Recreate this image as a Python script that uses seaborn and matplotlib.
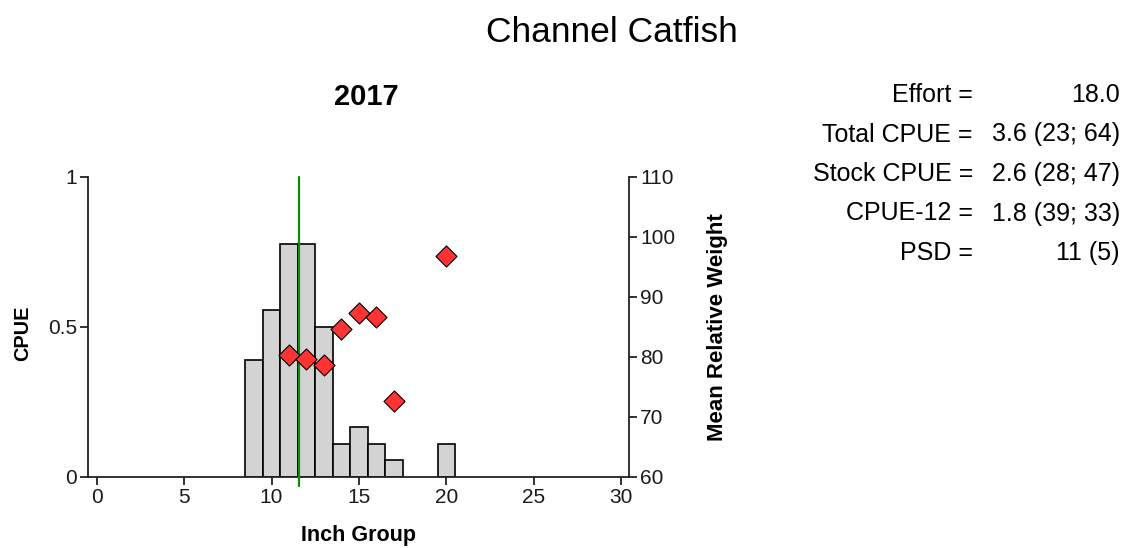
import matplotlib
matplotlib.use("Agg")
import matplotlib.pyplot as plt
import seaborn as sns
import pandas as pd

# ---- data ----
inch_group = [9, 10, 11, 12, 13, 14, 15, 16, 17, 20]
cpue = [0.389, 0.556, 0.778, 0.778, 0.500, 0.111, 0.167, 0.111, 0.056, 0.111]

wr_inch = [11, 12, 13, 14, 15, 16, 17, 20]
mean_wr = [80.3, 79.7, 78.7, 84.7, 87.3, 86.7, 72.7, 96.9]

quality_line = 11.55

stat_labels = ["Effort =", "Total CPUE =", "Stock CPUE =", "CPUE-12 =", "PSD ="]
stat_values = ["18.0", "3.6 (23; 64)", "2.6 (28; 47)", "1.8 (39; 33)", "11 (5)"]

x_ticks = [0, 5, 10, 15, 20, 25, 30]
cpue_ticks = [0, 0.5, 1]
cpue_tick_labels = ["0", "0.5", "1"]
wr_ticks = [60, 70, 80, 90, 100, 110]

title = "Channel Catfish"
year = "2017"

# ---- style ----
sns.set_style("ticks")
plt.rcParams["font.family"] = ["Liberation Sans", "DejaVu Sans"]
plt.rcParams["text.color"] = "black"

W, H = 1128, 548
fig = plt.figure(figsize=(W / 100, H / 100), dpi=100)
ax_l, ax_r, ax_b, ax_t = 88, 629, 477, 177
ax = fig.add_axes([ax_l / W, 1 - ax_b / H, (ax_r - ax_l) / W, (ax_b - ax_t) / H])

bars = pd.DataFrame({"inch": inch_group, "cpue": cpue})
sns.barplot(data=bars, x="inch", y="cpue", native_scale=True, width=1.0,
            color="#d3d3d3", saturation=1, edgecolor="black", linewidth=1.2,
            errorbar=None, ax=ax, zorder=2)

ax.plot([quality_line, quality_line], [-0.03, 1.0], color="#118811",
        lw=1.6, clip_on=False, zorder=3)

ax.set_xlim(-0.5, 30.45)
ax.set_ylim(0, 1)
ax.set_xticks(x_ticks)
ax.set_xticklabels([str(t) for t in x_ticks])
ax.set_yticks(cpue_ticks)
ax.set_yticklabels(cpue_tick_labels)

ax2 = ax.twinx()
pts = pd.DataFrame({"inch": wr_inch, "wr": mean_wr})
sns.scatterplot(data=pts, x="inch", y="wr", marker="D", s=115,
                color="#ff3333", edgecolor="black", linewidth=0.8,
                ax=ax2, zorder=4, clip_on=False)
ax2.set_ylim(60, 110)
ax2.set_yticks(wr_ticks)
ax2.set_xlim(-0.5, 30.45)

for a in (ax, ax2):
    a.spines["top"].set_visible(False)
    for s in a.spines.values():
        s.set_linewidth(1.3)
        s.set_color("#222222")
    a.tick_params(length=6, width=1.3, labelsize=15, colors="#222222",
                  labelcolor="#1a1a1a", pad=2)
ax.spines["right"].set_visible(False)
ax2.spines["left"].set_visible(False)
ax2.spines["bottom"].set_visible(False)

ax.set_xlabel("Inch Group", fontsize=15.5, fontweight="bold", color="black")
ax.set_ylabel("CPUE", fontsize=14.3, fontweight="bold", color="black")
ax2.set_ylabel("Mean Relative Weight", fontsize=16, fontweight="bold", color="black")
ax.xaxis.set_label_coords(0.5, -0.16)
ax.yaxis.set_label_coords(-0.103, 0.48)
ax2.yaxis.set_label_coords(1.144, 0.5)

fig.text(612 / W, 1 - 33 / H, title, fontsize=25.5, ha="center", va="center")
fig.text(366 / W, 1 - 97 / H, year, fontsize=21, fontweight="bold",
         ha="center", va="center")

for i, (lab, val) in enumerate(zip(stat_labels, stat_values)):
    y = 1 - (95 + 39.5 * i) / H
    fig.text(973 / W, y, lab, fontsize=18, ha="right", va="center")
    fig.text(1120 / W, y, val, fontsize=18, ha="right", va="center")

fig.savefig("out.png", dpi=100)
